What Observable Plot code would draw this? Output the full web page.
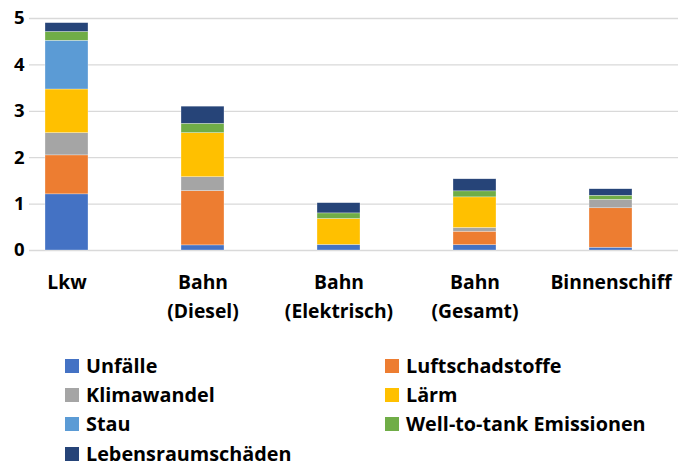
<!DOCTYPE html>
<html>
<head>
<meta charset="utf-8">
<script src="https://cdn.jsdelivr.net/npm/d3@7"></script>
<script src="https://cdn.jsdelivr.net/npm/@observablehq/plot@0.6"></script>
<style>
  body { margin: 0; background: #fff; font-family: "Open Sans", Lato, sans-serif; }
  #wrap { width: 678px; height: 463px; position: relative; overflow: hidden; }
  #legend {
    position: absolute; left: 65px; top: 351px;
    display: grid; grid-template-columns: 320px 290px; grid-auto-rows: 29.3px;
    font-weight: 700; font-size: 19.8px; line-height: 1; color: #000;
  }
  .item { display: flex; align-items: center; gap: 7px; white-space: nowrap; }
  .sw { width: 14px; height: 14px; flex: none; }
</style>
</head>
<body>
<div id="wrap"><div id="chart"></div><div id="legend"></div></div>
<script>
const categories = ["Lkw", "Bahn\n(Diesel)", "Bahn\n(Elektrisch)", "Bahn\n(Gesamt)", "Binnenschiff"];
const seriesNames = ["Unfälle", "Luftschadstoffe", "Klimawandel", "Lärm", "Stau", "Well-to-tank Emissionen", "Lebensraumschäden"];
const seriesColors = ["#4472C4", "#ED7D31", "#A5A5A5", "#FFC000", "#5B9BD5", "#70AD47", "#264478"];
const unfaelle        = [1.21, 0.11, 0.12, 0.115, 0.06];
const luftschadstoffe = [0.84, 1.17, 0.00, 0.29, 0.85];
const klimawandel     = [0.48, 0.30, 0.00, 0.08, 0.18];
const laerm           = [0.94, 0.95, 0.56, 0.66, 0.00];
const stau            = [1.05, 0.00, 0.00, 0.00, 0.00];
const wellToTank      = [0.19, 0.20, 0.12, 0.13, 0.09];
const lebensraum      = [0.19, 0.37, 0.22, 0.26, 0.14];
const yTicks = [0, 1, 2, 3, 4, 5];

const seriesValues = [unfaelle, luftschadstoffe, klimawandel, laerm, stau, wellToTank, lebensraum];
const table = seriesNames.flatMap((s, si) =>
  categories.map((c, ci) => ({category: c, series: s, value: seriesValues[si][ci]})));

const font = "'Open Sans', Lato, sans-serif";
const chart = Plot.plot({
  width: 678,
  height: 340,
  marginTop: 18,
  marginBottom: 90,
  marginLeft: 29,
  marginRight: 0,
  style: {fontFamily: font, fontWeight: 700, color: "#000", background: "#fff"},
  x: {domain: categories, range: [-3.4, 680.4], paddingInner: 0.683, paddingOuter: 0.3415, axis: null},
  y: {domain: [0, 5], ticks: yTicks, axis: null, label: null},
  color: {domain: seriesNames, range: seriesColors},
  marks: [
    Plot.ruleY(yTicks, {stroke: "#d9d9d9", strokeWidth: 1.3}),
    Plot.barY(table, {x: "category", y: "value", fill: "series", stroke: "white", strokeWidth: 0.5, strokeOpacity: 0.6}),
    Plot.axisY(yTicks, {tickSize: 0, tickPadding: 5, fontSize: 18.5, fontWeight: 700, label: null, tickFormat: d => String(d)}),
    Plot.text(categories, {x: d => d, frameAnchor: "bottom", dy: 18, lineAnchor: "top", lineHeight: 1.5, fontSize: 19.3, fontWeight: 700, fill: "#000"})
  ]
});
document.getElementById("chart").appendChild(chart);

const legend = document.getElementById("legend");
seriesNames.forEach((s, i) => {
  const item = document.createElement("div");
  item.className = "item";
  const sw = document.createElement("span");
  sw.className = "sw";
  sw.style.background = seriesColors[i];
  const t = document.createElement("span");
  t.textContent = s;
  item.appendChild(sw); item.appendChild(t);
  legend.appendChild(item);
});
</script>
</body>
</html>
